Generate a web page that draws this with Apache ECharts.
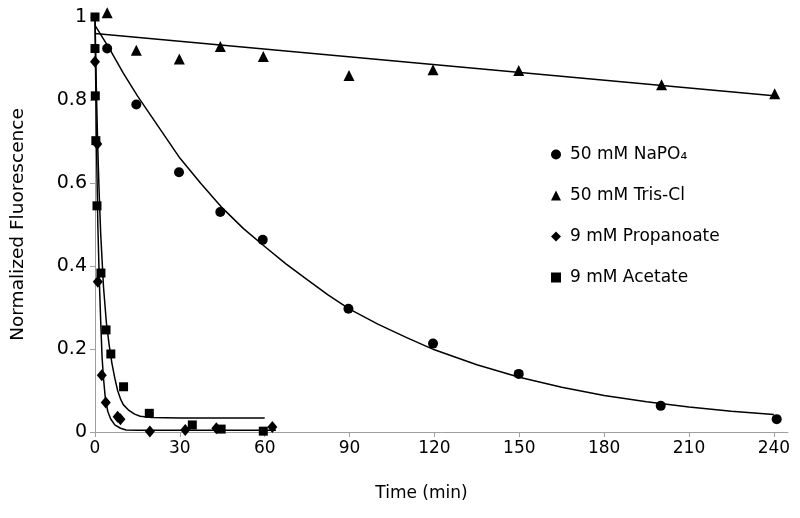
<!DOCTYPE html>
<html>
<head>
<meta charset="utf-8">
<script src="https://cdn.jsdelivr.net/npm/echarts@6/dist/echarts.min.js"></script>
<style>html,body{margin:0;padding:0;background:#fff}#c{width:800px;height:518px}</style>
</head>
<body>
<div id="c"></div>
<script>
// ---- data ----
const seriesNames = ['50 mM NaPO\u2084', '50 mM Tris-Cl', '9 mM Propanoate', '9 mM Acetate'];
const xTicks = [0, 30, 60, 90, 120, 150, 180, 210, 240];
const yTicks = [0, 0.2, 0.4, 0.6, 0.8, 1];

// measured points
const naPO4Time  = [4.3, 14.6, 29.7, 44.3, 59.3, 89.6, 119.5, 149.8, 200, 241];
const naPO4Value = [0.924, 0.789, 0.626, 0.53, 0.463, 0.297, 0.213, 0.14, 0.063, 0.031];

const trisTime  = [4.3, 14.6, 29.8, 44.3, 59.5, 89.8, 119.5, 149.8, 200.3, 240.3];
const trisValue = [1.01, 0.92, 0.899, 0.929, 0.905, 0.859, 0.873, 0.871, 0.837, 0.815];

const propTime  = [0, 0.8, 1.0, 2.4, 3.8, 8.0, 9.0, 19.4, 31.9, 42.9, 62.7];
const propValue = [0.892, 0.694, 0.362, 0.137, 0.071, 0.037, 0.031, 0.001, 0.005, 0.009, 0.012];

const acetTime  = [0, 0, 0.1, 0.3, 0.7, 2.1, 3.9, 5.6, 10.1, 19.2, 34.4, 44.6, 59.5];
const acetValue = [1.0, 0.924, 0.81, 0.702, 0.545, 0.383, 0.246, 0.188, 0.109, 0.045, 0.017, 0.007, 0.002];

// fitted curves
const naPO4FitTime  = [0, 5, 10, 15, 20, 25, 30, 37.5, 45, 52.5, 60, 67.5, 75, 82.5, 90, 100, 110, 120, 135, 150, 165, 180, 195, 210, 225, 240];
const naPO4FitValue = [0.98, 0.925, 0.865, 0.81, 0.76, 0.71, 0.66, 0.598, 0.54, 0.49, 0.447, 0.405, 0.367, 0.33, 0.296, 0.26, 0.228, 0.198, 0.162, 0.132, 0.108, 0.088, 0.073, 0.06, 0.05, 0.042];

const trisFitTime  = [0, 240];
const trisFitValue = [0.96, 0.81];

const propFitTime  = [0, 0.5, 1, 1.5, 2, 2.5, 3, 3.6, 4.5, 5.5, 7, 9, 11, 15, 30, 64];
const propFitValue = [0.99, 0.7, 0.5, 0.37, 0.27, 0.18, 0.13, 0.085, 0.05, 0.032, 0.017, 0.009, 0.005, 0.004, 0.004, 0.004];

const acetFitTime  = [0, 0.5, 1, 1.5, 2, 3, 4, 5, 6, 7, 8, 9, 10, 12, 14, 16, 20, 30, 60];
const acetFitValue = [1.0, 0.82, 0.68, 0.57, 0.48, 0.35, 0.265, 0.21, 0.165, 0.13, 0.1, 0.08, 0.066, 0.052, 0.043, 0.038, 0.035, 0.034, 0.034];

// ---- build ----
const zip = (xs, ys) => xs.map((x, i) => [x, ys[i]]);
const FONT = 'DejaVu Sans';
const AXIS_GRAY = '#a0a0a0';

const scatter = (name, symbol, size, xs, ys) => ({
  name, type: 'scatter', symbol, symbolSize: size, clip: false,
  itemStyle: { color: '#000', opacity: 1 }, data: zip(xs, ys), z: 3
});
const fit = (name, xs, ys) => ({
  name, type: 'line', showSymbol: false, symbol: 'none', smooth: false,
  lineStyle: { color: '#000', width: 1.5 }, data: zip(xs, ys), z: 2, silent: true
});

const chart = echarts.init(document.getElementById('c'), null, { renderer: 'canvas' });
chart.setOption({
  animation: false,
  backgroundColor: '#fff',
  textStyle: { fontFamily: FONT, color: '#000' },
  grid: { left: 95, right: 12, top: 17, bottom: 86, containLabel: false },
  legend: {
    data: [
      { name: seriesNames[0], icon: 'circle' },
      { name: seriesNames[1], icon: 'triangle' },
      { name: seriesNames[2], icon: 'diamond' },
      { name: seriesNames[3], icon: 'rect' }
    ],
    orient: 'vertical', left: 546, top: 141,
    itemWidth: 10, itemHeight: 10, itemGap: 24,
    itemStyle: { opacity: 1, color: '#000' },
    textStyle: { fontFamily: FONT, fontSize: 17, color: '#000', padding: [0, 0, 0, 4] },
    selectedMode: false
  },
  xAxis: {
    type: 'value', min: 0, max: 245,
    name: 'Time (min)', nameLocation: 'middle', nameGap: 53,
    nameTextStyle: { fontFamily: FONT, fontSize: 17, color: '#000', padding: [0, 40, 0, 0] },
    axisLine: { show: true, lineStyle: { color: AXIS_GRAY, width: 1 } },
    axisTick: { show: true, length: 5, lineStyle: { color: AXIS_GRAY }, customValues: xTicks },
    axisLabel: { fontFamily: FONT, fontSize: 17, color: '#000', margin: 8, customValues: xTicks },
    splitLine: { show: false }
  },
  yAxis: {
    type: 'value', min: 0, max: 1,
    name: 'Normalized Fluorescence', nameLocation: 'middle', nameGap: 67, nameRotate: 90,
    nameTextStyle: { fontFamily: FONT, fontSize: 18.5, color: '#000' },
    axisLine: { show: true, lineStyle: { color: AXIS_GRAY, width: 1 } },
    axisTick: { show: true, length: 5, lineStyle: { color: AXIS_GRAY }, customValues: yTicks },
    axisLabel: { fontFamily: FONT, fontSize: 19, color: '#000', margin: 8, customValues: yTicks },
    splitLine: { show: false }
  },
  series: [
    fit('fit NaPO4', naPO4FitTime, naPO4FitValue),
    fit('fit Tris', trisFitTime, trisFitValue),
    fit('fit Propanoate', propFitTime, propFitValue),
    fit('fit Acetate', acetFitTime, acetFitValue),
    scatter(seriesNames[0], 'circle', 10, naPO4Time, naPO4Value),
    scatter(seriesNames[1], 'triangle', 11, trisTime, trisValue),
    scatter(seriesNames[2], 'diamond', [10, 12], propTime, propValue),
    scatter(seriesNames[3], 'rect', 9, acetTime, acetValue)
  ]
});
</script>
</body>
</html>
